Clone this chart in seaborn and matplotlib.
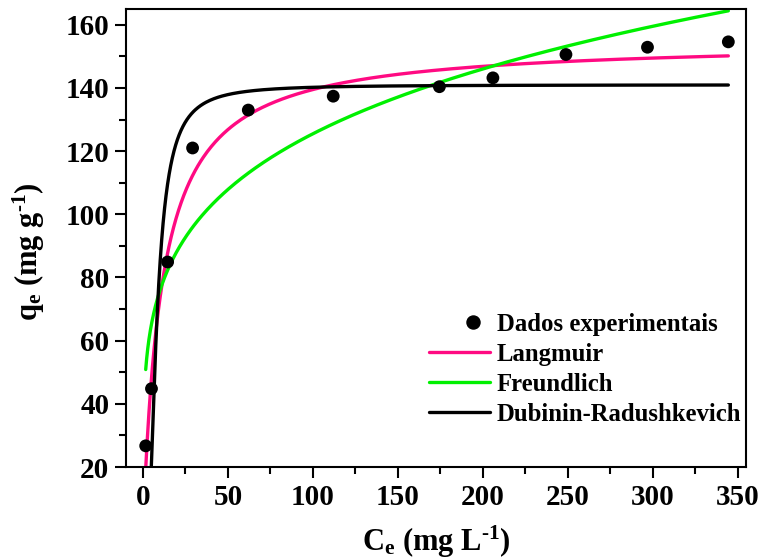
import numpy as np
import pandas as pd
import matplotlib
matplotlib.use("Agg")
import matplotlib.pyplot as plt
import seaborn as sns
from matplotlib.lines import Line2D
from matplotlib.legend_handler import HandlerLine2D

# Experimental equilibrium data
ce_exp = [1.6, 5.0, 14.5, 29.2, 62.0, 112.0, 174.5, 206.0, 249.0, 297.0, 344.6]
qe_exp = [26.7, 44.8, 84.9, 121.0, 133.0, 137.4, 140.4, 143.2, 150.6, 152.9, 154.6]

# Fitted isotherm parameters
langmuir_qm, langmuir_kl = 155.0, 0.09
freundlich_kf, freundlich_inv_n = 45.9, 0.2184
dr_qm, dr_b = 141.0, 56.6

series_names = ["Dados experimentais", "Langmuir", "Freundlich", "Dubinin-Radushkevich"]
x_ticks = [0, 50, 100, 150, 200, 250, 300, 350]
y_ticks = [20, 40, 60, 80, 100, 120, 140, 160]

sns.set_style("ticks")
plt.rcParams["font.family"] = ["Liberation Serif", "DejaVu Serif"]
plt.rcParams["font.weight"] = "bold"
plt.rcParams["text.color"] = "black"
plt.rcParams["axes.labelcolor"] = "black"
plt.rcParams["xtick.color"] = "black"
plt.rcParams["ytick.color"] = "black"
plt.rcParams["mathtext.fontset"] = "custom"
plt.rcParams["mathtext.rm"] = "Liberation Serif:bold"
plt.rcParams["mathtext.it"] = "Liberation Serif:bold"
plt.rcParams["mathtext.bf"] = "Liberation Serif:bold"

# Model curves over the experimental concentration range
ce_fit = np.concatenate([np.linspace(ce_exp[0], 30, 400), np.linspace(30, ce_exp[-1], 400)[1:]])
q_lang = langmuir_qm * langmuir_kl * ce_fit / (1 + langmuir_kl * ce_fit)
q_freu = freundlich_kf * ce_fit ** freundlich_inv_n
q_dr = dr_qm * np.exp(-dr_b * np.log(1 + 1 / ce_fit) ** 2)

fits = pd.DataFrame({
    "Ce": np.tile(ce_fit, 3),
    "qe": np.concatenate([q_lang, q_freu, q_dr]),
    "model": np.repeat(series_names[1:], len(ce_fit)),
})
exp_df = pd.DataFrame({"Ce": ce_exp, "qe": qe_exp})

fig = plt.figure(figsize=(7.64, 5.60), dpi=100)
ax = fig.add_axes([126 / 764, 1 - 467 / 560, 620 / 764, 458 / 560])

palette = {"Langmuir": "#FF0A82", "Freundlich": "#00F000", "Dubinin-Radushkevich": "#000000"}
sns.lineplot(data=fits, x="Ce", y="qe", hue="model", palette=palette, lw=2.4,
             ax=ax, sort=False, estimator=None, legend=False)
sns.scatterplot(data=exp_df, x="Ce", y="qe", color="black", s=85, edgecolor="none",
                ax=ax, zorder=5, legend=False)

ax.set_xlim(-10, 355)
ax.set_ylim(20, 165)
ax.set_xticks(x_ticks)
ax.set_yticks(y_ticks)
ax.set_xticks(np.arange(25, 351, 50), minor=True)
ax.set_yticks(np.arange(30, 165, 20), minor=True)
ax.tick_params(axis="both", which="major", direction="out", length=8, width=1.5,
               labelsize=21, pad=4)
ax.tick_params(axis="both", which="minor", direction="out", length=5, width=1.5)
for lab in ax.get_xticklabels() + ax.get_yticklabels():
    lab.set_fontweight("bold")
for sp in ax.spines.values():
    sp.set_linewidth(1.5)
    sp.set_color("black")

ax.set_xlabel(r"C$_{\mathregular{e}}$ (mg L$^{\text{-1}}$)", fontsize=22, fontweight="bold")
ax.set_ylabel(r"q$_{\mathregular{e}}$ (mg g$^{\text{-1}}$)", fontsize=22, fontweight="bold")
ax.xaxis.set_label_coords(0.5, -0.125)
ax.yaxis.set_label_coords(-0.128, 0.47)

dot_handle = Line2D([], [], ls="none", marker="o", ms=9.4, color="black")
handles = [
    dot_handle,
    Line2D([], [], color=palette["Langmuir"], lw=2.4),
    Line2D([], [], color=palette["Freundlich"], lw=2.4),
    Line2D([], [], color=palette["Dubinin-Radushkevich"], lw=2.4),
]
leg = ax.legend(handles, series_names, loc="upper left", frameon=False,
                bbox_to_anchor=(429 / 764, 1 - 313 / 560), bbox_transform=fig.transFigure,
                borderpad=0, borderaxespad=0, handlelength=2.47, handletextpad=0.28,
                labelspacing=0.28, handler_map={dot_handle: HandlerLine2D(xpad=1.09)},
                prop={"family": "Liberation Serif", "weight": "bold", "size": 17.8})

fig.savefig("out.png", dpi=100)
